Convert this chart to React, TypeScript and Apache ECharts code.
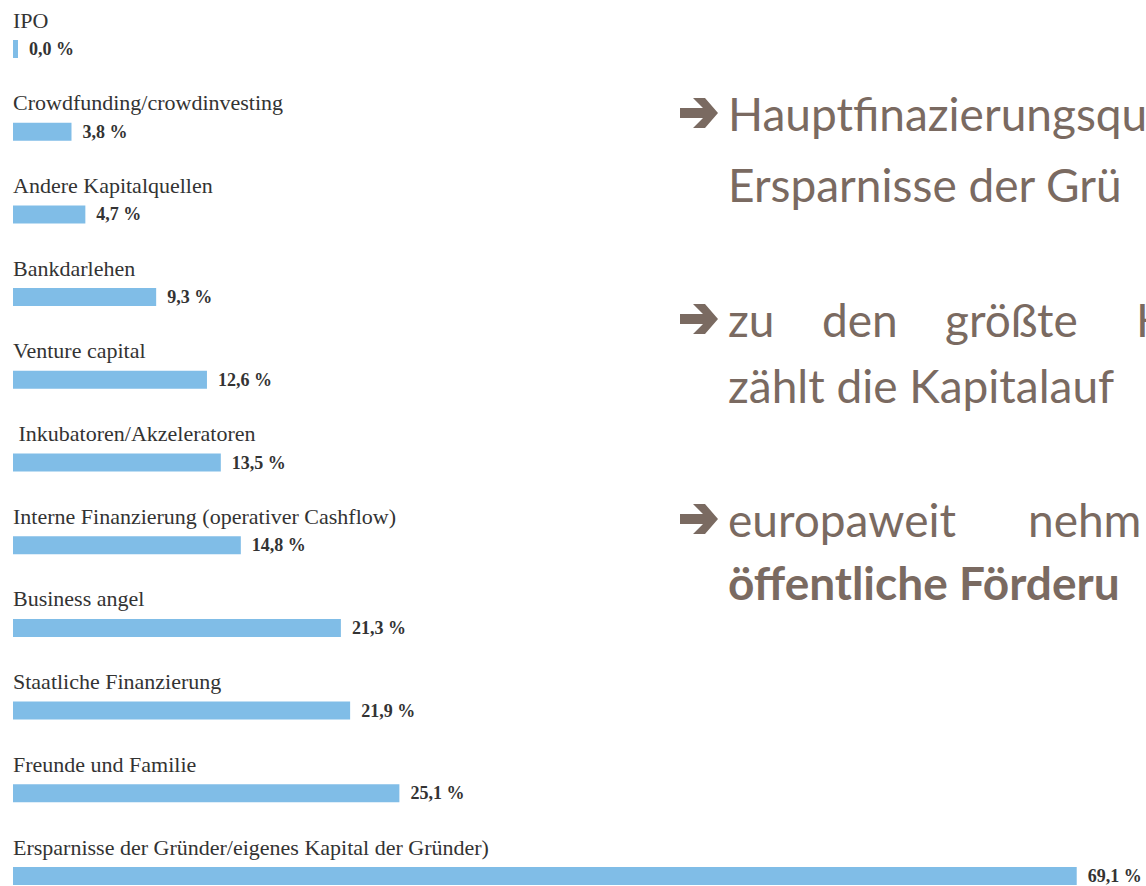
import React, { useEffect, useRef } from "react";
import * as echarts from "echarts";

const categories = [
  "IPO",
  "Crowdfunding/crowdinvesting",
  "Andere Kapitalquellen",
  "Bankdarlehen",
  "Venture capital",
  " Inkubatoren/Akzeleratoren",
  "Interne Finanzierung (operativer Cashflow)",
  "Business angel",
  "Staatliche Finanzierung",
  "Freunde und Familie",
  "Ersparnisse der Gründer/eigenes Kapital der Gründer)",
];
const values = [0.0, 3.8, 4.7, 9.3, 12.6, 13.5, 14.8, 21.3, 21.9, 25.1, 69.1];
const valueLabels = ["0,0 %", "3,8 %", "4,7 %", "9,3 %", "12,6 %", "13,5 %", "14,8 %", "21,3 %", "21,9 %", "25,1 %", "69,1 %"];

// right-hand notes (visible parts, cut at the right edge)
const note1 = ["Hauptfinazierungsqu", "Ersparnisse der Grü"];
const note2Words = ["zu", "den", "größte", "H"];
const note2Line2 = "zählt die Kapitalauf";
const note3Words = ["europaweit", "nehm"];
const note3Line2 = "öffentliche Förderu";

const BAR = "#80bde7";
const TXT = "#7a6a61";
const LABEL = "#333333";

function arrow(cx: number, cy: number) {
  const x0 = cx;
  const pts = [
    [x0, cy - 5],
    [x0 + 23, cy - 5],
    [x0 + 13, cy - 15],
    [x0 + 25, cy - 15],
    [x0 + 38, cy],
    [x0 + 25, cy + 15],
    [x0 + 13, cy + 15],
    [x0 + 23, cy + 5],
    [x0, cy + 5],
  ];
  return { type: "polygon", shape: { points: pts }, style: { fill: TXT }, silent: true };
}

function txt(s: string, x: number, baseline: number, bold = false) {
  return {
    type: "text",
    x,
    y: baseline - 18,
    silent: true,
    style: {
      text: s,
      fill: TXT,
      fontFamily: "Lato",
      fontSize: 46,
      fontWeight: bold ? "bold" : "normal",
      textAlign: "left",
      textVerticalAlign: "middle",
    },
  };
}

export default function App() {
  const ref = useRef<HTMLDivElement>(null);
  useEffect(() => {
    if (!ref.current) return;
    const chart = echarts.init(ref.current, undefined, { renderer: "svg" });
    const option: any = {
      animation: false,
      backgroundColor: "#ffffff",
      grid: { left: 13, right: 0, top: 49, bottom: 10 },
      xAxis: { type: "value", min: 0, max: 73.6, show: false },
      yAxis: { type: "category", data: categories, inverse: true, show: false, boundaryGap: false },
      series: [
        {
          type: "bar",
          data: values,
          barWidth: 18,
          barMinHeight: 5,
          silent: true,
          itemStyle: { color: BAR },
          label: {
            show: true,
            position: "right",
            distance: 11,
            formatter: (p: any) => valueLabels[p.dataIndex],
            fontFamily: "Liberation Serif",
            fontWeight: "bold",
            fontSize: 18,
            color: LABEL,
          },
        },
        {
          type: "bar",
          data: values,
          barWidth: 18,
          barGap: "-100%",
          barMinHeight: 5,
          silent: true,
          itemStyle: { color: "rgba(0,0,0,0)" },
          label: {
            show: true,
            position: [0, -20],
            align: "left",
            verticalAlign: "middle",
            formatter: (p: any) => categories[p.dataIndex],
            fontFamily: "Liberation Serif",
            fontSize: 22,
            color: LABEL,
          },
        },
      ],
      graphic: [
        arrow(680, 113),
        txt(note1[0], 728, 131),
        txt(note1[1], 728, 202),
        arrow(680, 319),
        txt(note2Words[0], 728, 337),
        txt(note2Words[1], 822, 337),
        txt(note2Words[2], 945, 337),
        txt(note2Words[3], 1136, 337),
        txt(note2Line2, 728, 403),
        arrow(680, 519),
        txt(note3Words[0], 728, 537),
        txt(note3Words[1], 1028, 537),
        txt(note3Line2, 728, 600, true),
      ],
    };
    chart.setOption(option);
    return () => chart.dispose();
  }, []);
  return (
    <div
      ref={ref}
      style={{ position: "absolute", left: 0, top: 0, width: 1146, height: 886, background: "#fff" }}
    />
  );
}
